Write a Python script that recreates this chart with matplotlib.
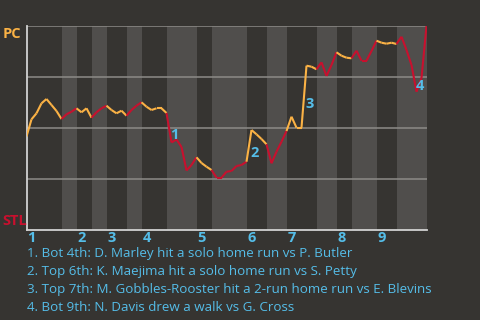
import matplotlib
matplotlib.use("Agg")
import matplotlib.pyplot as plt
import numpy as np

# win probability for PC, one value per plate appearance (0 = STL wins, 1 = PC wins)
wp_px = [136.5, 119.3, 113.3, 103.3, 99, 105, 111, 119, 114.3, 111.7,
         108.3, 112.3, 108.3, 117.7, 112.3, 108.3, 105.7, 110, 113.3, 110.7,
         115.7, 110, 105.7, 102.3, 106.7, 110, 108.3, 108.3, 113, 142.5,
         139.5, 147, 170.5, 165, 157.3, 163, 166.7, 170, 177.7, 177.7,
         171.7, 171, 166, 165, 161.7, 130, 134.3, 139, 144.3, 163.3,
         151.7, 141.7, 131, 116.7, 127.7, 127.7, 65.7, 66.7, 69.3, 62.3,
         76, 65, 52.3, 55.7, 57.7, 58.3, 50.7, 60.7, 60.7, 51,
         40.7, 42.7, 43.7, 42.7, 44, 36.7, 50, 65, 91.7, 78, 26]
# values above were read as pixel rows; plot area spans rows 26..230
wp = [(230 - v) / 204 for v in wp_px]

# plate appearance index where each half inning ends
half_ends = [7, 10, 13, 16, 20, 23, 28, 34, 37, 44, 48, 52, 58, 62, 65, 70, 74, 80]
innings = ["1", "2", "3", "4", "5", "6", "7", "8", "9"]

event_idx = [29, 45, 56, 78]
events = [
    "1. Bot 4th: D. Marley hit a solo home run vs P. Butler",
    "2. Top 6th: K. Maejima hit a solo home run vs S. Petty",
    "3. Top 7th: M. Gobbles-Rooster hit a 2-run home run vs E. Blevins",
    "4. Bot 9th: N. Davis drew a walk vs G. Cross",
]

BG = "#363431"
BAND = "#504e4c"
ORANGE = "#fbb245"
RED = "#c8102e"
BLUE = "#55bde8"
FONT = ["Open Sans", "DejaVu Sans"]

W, H = 480, 320
fig = plt.figure(figsize=(4.8, 3.2), dpi=100, facecolor=BG)
ax = fig.add_axes([26.5 / W, 1 - 230 / H, 400 / W, 204 / H])
ax.set_facecolor(BG)
ax.set_xlim(0, 80)
ax.set_ylim(0, 1)

starts = [0] + half_ends[:-1]
for i, (a, b) in enumerate(zip(starts, half_ends)):
    if i % 2 == 1:
        ax.axvspan(a, b, color=BAND, lw=0, zorder=0)

for g in [0.25, 0.5, 0.75, 1.0]:
    ax.axhline(g, color="#8d8b88", lw=1.1, zorder=1)

# colour each step by which team was batting
half_of = []
for i, (a, b) in enumerate(zip(starts, half_ends)):
    half_of += [i] * (b - a)
for k in range(1, len(wp)):
    c = ORANGE if half_of[k - 1] % 2 == 0 else RED
    ax.plot([k - 1, k], [wp[k - 1], wp[k]], color=c, lw=1.5,
            solid_capstyle="butt", zorder=3)

for n, k in enumerate(event_idx):
    mx = k - 0.5
    my = (wp[k - 1] + wp[k]) / 2
    ax.annotate(str(n + 1), (mx, my), xytext=(5.5, -7.5), textcoords="offset pixels",
                ha="center", va="center", color=BLUE, fontsize=10.5,
                fontweight="bold", family=FONT, zorder=4)

for s in ["right", "top"]:
    ax.spines[s].set_visible(False)
for s in ["left", "bottom"]:
    ax.spines[s].set_color("#d2d2d2")
    ax.spines[s].set_linewidth(1.3)
ax.set_xticks([])
ax.set_yticks([])

# inning numbers at the start of each inning
for j, lab in enumerate(innings):
    x0 = starts[2 * j]
    ax.annotate(lab, (x0, 0), xytext=(1, -8), textcoords="offset pixels",
                ha="left", va="center", color=BLUE, fontsize=10.5,
                fontweight="bold", family=FONT, annotation_clip=False)

fig.text(2.5 / W, 1 - 33.5 / H, "PC", color=ORANGE, fontsize=10.5, fontweight="bold",
         family=FONT, ha="left", va="center")
fig.text(2.5 / W, 1 - 221 / H, "STL", color=RED, fontsize=10.5, fontweight="bold",
         family=FONT, ha="left", va="center")

for n, t in enumerate(events):
    fig.text(27 / W, 1 - (254 + 17.7 * n) / H, t, color=BLUE, fontsize=9.6,
             family=FONT, ha="left", va="center")

fig.savefig("out.png", dpi=100, facecolor=BG)
